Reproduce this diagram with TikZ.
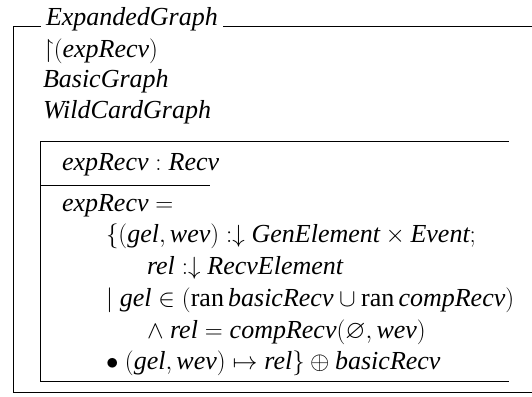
\documentclass[tikz,border=0pt]{standalone}
\usepackage{amssymb}
\usepackage{fontspec}
\setmainfont{Liberation Serif}
\newcommand{\zid}[1]{\textit{#1}}
\newcommand{\zran}{\mathrm{ran}\,}
\newcommand{\zdecl}{\mathrel{\mathord{:}\mathord{\downarrow}}}
\tikzset{
  zline/.style={line width=1pt, line cap=rect},
  zrow/.style={anchor=base west, inner sep=0pt, outer sep=0pt,
    font=\fontsize{26}{31}\selectfont},
}
\begin{document}
\begin{tikzpicture}[x=1pt, y=-1pt]
\useasboundingbox (0,0) rectangle (532,396);

% class frame
\node[zrow] (title) at (46,26) {\zid{ExpandedGraph}};
\coordinate (ctl) at (13,26.5);
\coordinate (cbl) at (13,392.5);
\coordinate (ctr) at (532,26.5);
\coordinate (cbr) at (532,392.5);
\draw[zline] (title.west |- ctl) ++(-6,0) -- (ctl) -- (cbl) -- (cbr);
\draw[zline] (title.east |- ctr) ++(6,0) -- (ctr);

% visibility list and inherited classes
\node[zrow] (vis) at (43,57) {$\mathord{\upharpoonright}(\zid{expRecv})$};
\node[zrow] (basic) at (43,87) {\zid{BasicGraph}};
\node[zrow] (wild) at (43,118) {\zid{WildCardGraph}};

% state schema
\coordinate (stl) at (40.5,141.5);
\coordinate (str) at (508,141.5);
\coordinate (sbl) at (40.5,381.5);
\coordinate (sbr) at (508,381.5);
\coordinate (ssl) at (40.5,185.5);
\coordinate (ssr) at (209,185.5);
\draw[zline] (str) -- (stl) -- (sbl) -- (sbr);
\draw[zline] (ssl) -- (ssr);

\node[zrow] (decl) at (62,170) {$\zid{expRecv} : \zid{Recv}$};

\node[zrow] (p1) at (62,211) {$\zid{expRecv} =$};
\node[zrow] (p2) at (106,242)
  {$\{(\zid{gel}, \zid{wev}) \zdecl \zid{GenElement} \times \zid{Event};$};
\node[zrow] (p3) at (147,274) {$\zid{rel} \zdecl \zid{RecvElement}$};
\node[zrow] (p4) at (106,306)
  {$\mid \zid{gel} \in (\zran \zid{basicRecv} \cup \zran \zid{compRecv})$};
\node[zrow] (p5) at (147,338)
  {$\land\ \zid{rel} = \zid{compRecv}(\varnothing, \zid{wev})$};
\node[zrow] (p6) at (106,369)
  {$\bullet\ (\zid{gel}, \zid{wev}) \mapsto \zid{rel}\} \oplus \zid{basicRecv}$};
\end{tikzpicture}
\end{document}
